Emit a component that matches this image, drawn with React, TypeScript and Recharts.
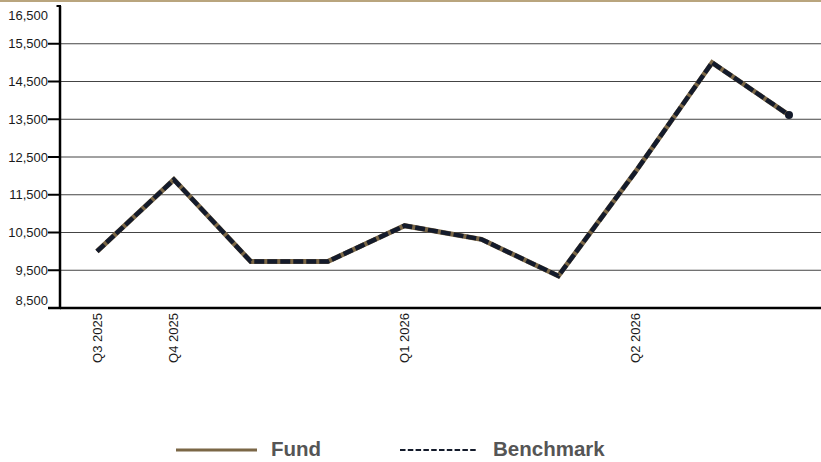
import React from 'react';
import { LineChart, Line, XAxis, YAxis, CartesianGrid } from 'recharts';

const tickLabels = ['Q3 2025', 'Q4 2025', '', '', 'Q1 2026', '', '', 'Q2 2026', '', ''];
const fundValues = [10000, 11900, 9730, 9730, 10680, 10320, 9350, 12100, 15000, 13610];
const benchmarkValues = [10000, 11900, 9730, 9730, 10680, 10320, 9350, 12100, 15000, 13610];
const yTicks = [8500, 9500, 10500, 11500, 12500, 13500, 14500, 15500, 16500];
const gridValues = [9500, 10500, 11500, 12500, 13500, 14500, 15500];
const seriesNames = ['Fund', 'Benchmark'];

const FUND_COLOR = '#7b6746';
const BENCH_COLOR = '#141b2b';
const FONT = '"Liberation Sans", Arial, Helvetica, sans-serif';

const data = tickLabels.map((label, i) => ({
  idx: i,
  label,
  fund: fundValues[i],
  benchmark: benchmarkValues[i],
}));

const YTick = (props: any) => {
  const { y, payload } = props;
  const v = payload.value as number;
  const isTop = v === yTicks[yTicks.length - 1];
  const isBottom = v === yTicks[0];
  const dy = isTop ? 9 : isBottom ? -8 : 0;
  return (
    <g>
      {!isTop && !isBottom && (
        <line x1={48} x2={60} y1={y} y2={y} stroke="#000" strokeWidth={2} />
      )}
      {isTop && <line x1={56.5} x2={61} y1={y} y2={y} stroke="#000" strokeWidth={2} />}
      {isBottom && <line x1={48} x2={61} y1={y} y2={y} stroke="#000" strokeWidth={2.5} />}
      <text
        x={48}
        y={y + dy}
        textAnchor="end"
        dominantBaseline="central"
        fontSize={13}
        fill="#1a1a1a"
        fontFamily={FONT}
      >
        {v.toLocaleString('en-US')}
      </text>
    </g>
  );
};

const XTick = (props: any) => {
  const { x, payload } = props;
  const label = tickLabels[payload.value as number];
  if (!label) return <g />;
  return (
    <text
      x={x}
      y={313}
      transform={`rotate(-90 ${x} 313)`}
      textAnchor="end"
      dominantBaseline="central"
      fontSize={13}
      fill="#1a1a1a"
      fontFamily={FONT}
    >
      {label}
    </text>
  );
};

const LastDot = (props: any) => {
  const { cx, cy, index } = props;
  if (index !== benchmarkValues.length - 1) return <g key={`d${index}`} />;
  return <circle key={`d${index}`} cx={cx} cy={cy} r={4} fill={BENCH_COLOR} />;
};

export default function App() {
  return (
    <div
      style={{
        position: 'absolute',
        left: 0,
        top: 0,
        width: 821,
        height: 462,
        background: '#fff',
        fontFamily: FONT,
        overflow: 'hidden',
      }}
    >
      <div
        style={{
          position: 'absolute',
          left: 0,
          top: 0,
          width: 821,
          height: 2,
          background: '#b9a57e',
        }}
      />
      <div style={{ position: 'absolute', left: 0, top: 0 }}>
        <LineChart
          width={821}
          height={380}
          data={data}
          margin={{ top: 6, right: 0, bottom: 0, left: 0 }}
        >
          <CartesianGrid
            vertical={false}
            horizontalValues={gridValues}
            stroke="#444"
            strokeWidth={1}
          />
          <XAxis
            dataKey="idx"
            type="category"
            interval={0}
            height={72}
            padding={{ left: 37, right: 32 }}
            tick={<XTick />}
            tickLine={false}
            axisLine={{ stroke: '#000', strokeWidth: 2.5 }}
          />
          <YAxis
            width={60}
            domain={[8500, 16500]}
            ticks={yTicks}
            interval={0}
            tick={<YTick />}
            tickLine={false}
            axisLine={{ stroke: '#000', strokeWidth: 2.5 }}
          />
          <Line
            type="linear"
            dataKey="fund"
            name={seriesNames[0]}
            stroke={FUND_COLOR}
            strokeWidth={5}
            dot={false}
            activeDot={false}
            isAnimationActive={false}
          />
          <Line
            type="linear"
            dataKey="benchmark"
            name={seriesNames[1]}
            stroke={BENCH_COLOR}
            strokeWidth={4.5}
            strokeDasharray="10 3"
            dot={<LastDot />}
            activeDot={false}
            isAnimationActive={false}
          />
        </LineChart>
      </div>
      <svg
        width={821}
        height={462}
        style={{ position: 'absolute', left: 0, top: 0, pointerEvents: 'none' }}
      >
        <line x1={176} x2={257} y1={450} y2={450} stroke={FUND_COLOR} strokeWidth={3} />
        <text x={271} y={456} fontSize={20.5} fontWeight="bold" fill="#555" fontFamily={FONT}>
          {seriesNames[0]}
        </text>
        <line
          x1={400}
          x2={478}
          y1={450}
          y2={450}
          stroke={BENCH_COLOR}
          strokeWidth={2}
          strokeDasharray="5.5 2.3"
        />
        <text x={493} y={456} fontSize={20.5} fontWeight="bold" fill="#555" fontFamily={FONT}>
          {seriesNames[1]}
        </text>
      </svg>
    </div>
  );
}
